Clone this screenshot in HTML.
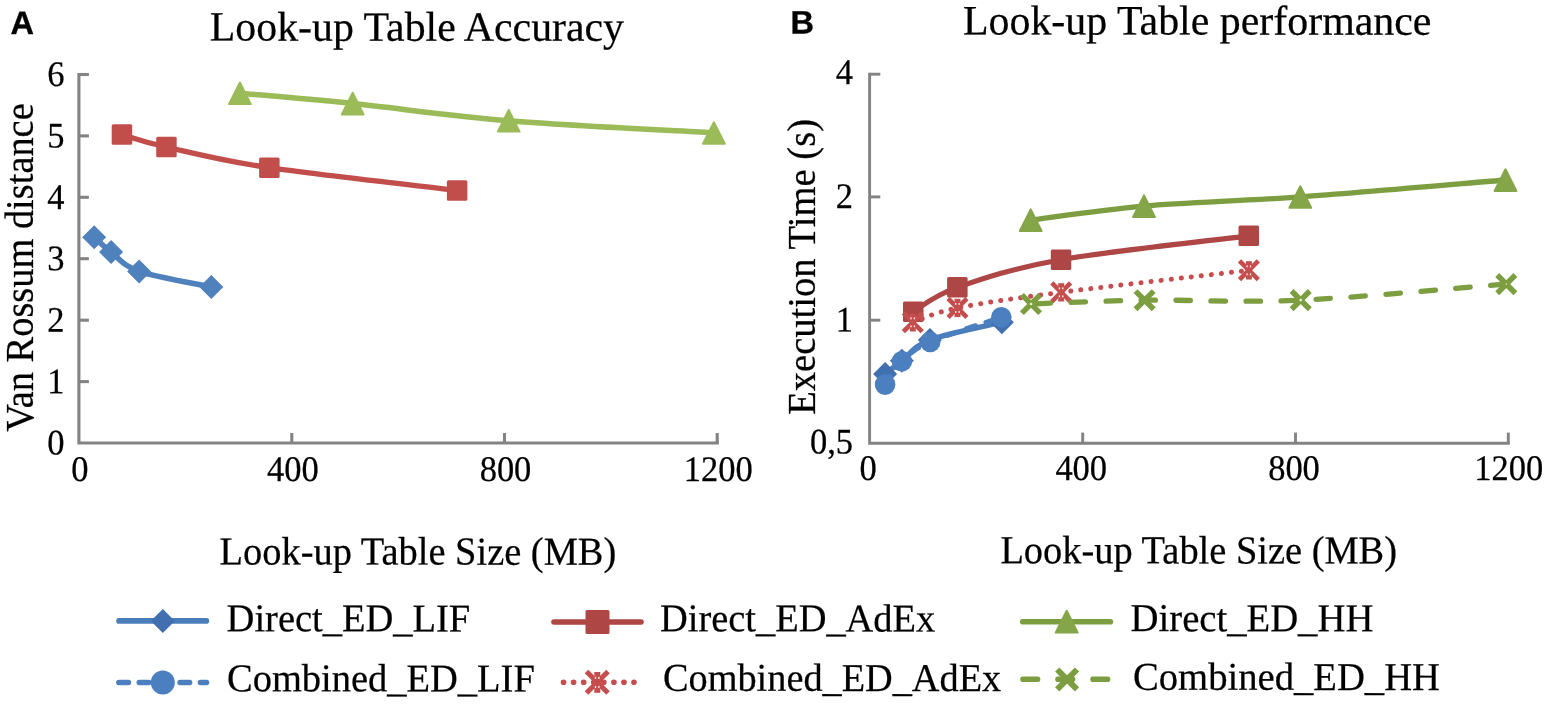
<!DOCTYPE html>
<html lang="en"><head><meta charset="utf-8"><title>Look-up Table Accuracy and performance</title>
<style>
html,body{margin:0;padding:0;background:#fff;}
body{width:1547px;height:706px;overflow:hidden;}
svg{display:block;}
</style></head><body>
<svg width="1547" height="706" viewBox="0 0 1547 706">
<rect width="1547" height="706" fill="#fff"/>
<path d="M78.9 72.9 L78.9 443.0 L718.8 443.0" fill="none" stroke="#838383" stroke-width="3.1" stroke-linejoin="miter"/>
<path d="M291.8 443.0 L291.8 433.0" stroke="#838383" stroke-width="3.1"/>
<path d="M504.5 443.0 L504.5 433.0" stroke="#838383" stroke-width="3.1"/>
<path d="M717.2 443.0 L717.2 433.0" stroke="#838383" stroke-width="3.1"/>
<path d="M78.9 381.6 L88.9 381.6" stroke="#838383" stroke-width="3.1"/>
<path d="M78.9 320.2 L88.9 320.2" stroke="#838383" stroke-width="3.1"/>
<path d="M78.9 258.7 L88.9 258.7" stroke="#838383" stroke-width="3.1"/>
<path d="M78.9 197.3 L88.9 197.3" stroke="#838383" stroke-width="3.1"/>
<path d="M78.9 135.9 L88.9 135.9" stroke="#838383" stroke-width="3.1"/>
<path d="M78.9 74.5 L88.9 74.5" stroke="#838383" stroke-width="3.1"/>
<text transform="translate(64.50,454.60) rotate(0.03) scale(0.957,1)" font-family='"Liberation Serif", serif' font-size="36" font-weight="normal" text-anchor="end" fill="#000" stroke="#000" stroke-width="0.25">0</text>
<text transform="translate(64.50,393.18) rotate(0.03) scale(0.957,1)" font-family='"Liberation Serif", serif' font-size="36" font-weight="normal" text-anchor="end" fill="#000" stroke="#000" stroke-width="0.25">1</text>
<text transform="translate(64.50,331.76) rotate(0.03) scale(0.957,1)" font-family='"Liberation Serif", serif' font-size="36" font-weight="normal" text-anchor="end" fill="#000" stroke="#000" stroke-width="0.25">2</text>
<text transform="translate(64.50,270.34) rotate(0.03) scale(0.957,1)" font-family='"Liberation Serif", serif' font-size="36" font-weight="normal" text-anchor="end" fill="#000" stroke="#000" stroke-width="0.25">3</text>
<text transform="translate(64.50,208.92) rotate(0.03) scale(0.957,1)" font-family='"Liberation Serif", serif' font-size="36" font-weight="normal" text-anchor="end" fill="#000" stroke="#000" stroke-width="0.25">4</text>
<text transform="translate(64.50,147.50) rotate(0.03) scale(0.957,1)" font-family='"Liberation Serif", serif' font-size="36" font-weight="normal" text-anchor="end" fill="#000" stroke="#000" stroke-width="0.25">5</text>
<text transform="translate(64.50,86.08) rotate(0.03) scale(0.957,1)" font-family='"Liberation Serif", serif' font-size="36" font-weight="normal" text-anchor="end" fill="#000" stroke="#000" stroke-width="0.25">6</text>
<text transform="translate(79.90,480.90) rotate(0.03) scale(0.957,1)" font-family='"Liberation Serif", serif' font-size="36" font-weight="normal" text-anchor="middle" fill="#000" stroke="#000" stroke-width="0.25">0</text>
<text transform="translate(292.80,480.90) rotate(0.03) scale(0.957,1)" font-family='"Liberation Serif", serif' font-size="36" font-weight="normal" text-anchor="middle" fill="#000" stroke="#000" stroke-width="0.25">400</text>
<text transform="translate(505.50,480.90) rotate(0.03) scale(0.957,1)" font-family='"Liberation Serif", serif' font-size="36" font-weight="normal" text-anchor="middle" fill="#000" stroke="#000" stroke-width="0.25">800</text>
<text transform="translate(718.20,480.90) rotate(0.03) scale(0.957,1)" font-family='"Liberation Serif", serif' font-size="36" font-weight="normal" text-anchor="middle" fill="#000" stroke="#000" stroke-width="0.25">1200</text>
<text transform="translate(10.60,34.00) rotate(0.03)" font-family='"Liberation Sans", sans-serif' font-size="32.5" font-weight="bold" text-anchor="start" fill="#000" stroke="#000" stroke-width="0.35">A</text>
<text transform="translate(416.90,40.70) rotate(0.03)" font-family='"Liberation Serif", serif' font-size="41.8" font-weight="normal" text-anchor="middle" fill="#000" stroke="#000" stroke-width="0.25">Look-up Table Accuracy</text>
<text transform="translate(417.90,564.60) rotate(0.03) scale(0.968,1)" font-family='"Liberation Serif", serif' font-size="39.7" font-weight="normal" text-anchor="middle" fill="#000" stroke="#000" stroke-width="0.25">Look-up Table Size (MB)</text>
<text transform="translate(33.40,267.50) rotate(-90) scale(0.941,1)" font-family='"Liberation Serif", serif' font-size="40.8" font-weight="normal" text-anchor="middle" fill="#000" stroke="#000" stroke-width="0.25">Van Rossum distance</text>
<path d="M239.9 93.2 C258.7 94.9 307.9 98.9 352.7 103.5 C397.5 108.1 448.5 115.8 508.7 120.7 C568.9 125.6 679.7 130.9 713.9 132.9" fill="none" stroke="#9BBB59" stroke-width="5.5" stroke-linecap="round" stroke-linejoin="round"/>
<path d="M239.9 82.5 L250.8 104.1 L229.0 104.1Z" fill="#9BBB59" stroke="#9BBB59" stroke-width="2" stroke-linejoin="round"/>
<path d="M352.7 92.8 L363.6 114.4 L341.8 114.4Z" fill="#9BBB59" stroke="#9BBB59" stroke-width="2" stroke-linejoin="round"/>
<path d="M508.7 110.0 L519.6 131.6 L497.8 131.6Z" fill="#9BBB59" stroke="#9BBB59" stroke-width="2" stroke-linejoin="round"/>
<path d="M713.9 122.2 L724.8 143.8 L703.0 143.8Z" fill="#9BBB59" stroke="#9BBB59" stroke-width="2" stroke-linejoin="round"/>
<path d="M121.9 134.6 C129.3 136.7 141.8 141.5 166.4 147.0 C191.0 152.5 220.8 160.5 269.3 167.7 C317.8 174.9 425.8 186.6 457.1 190.4" fill="none" stroke="#C24E4B" stroke-width="5.3" stroke-linecap="round" stroke-linejoin="round"/>
<rect x="111.7" y="124.3" width="20.5" height="20.5" rx="1.5" fill="#C24E4B"/>
<rect x="156.2" y="136.8" width="20.5" height="20.5" rx="1.5" fill="#C24E4B"/>
<rect x="259.1" y="157.4" width="20.5" height="20.5" rx="1.5" fill="#C24E4B"/>
<rect x="446.9" y="180.2" width="20.5" height="20.5" rx="1.5" fill="#C24E4B"/>
<path d="M94.2 237.2 C97.0 239.7 103.6 246.4 111.1 252.1 C118.6 257.8 122.4 265.6 139.1 271.4 C155.8 277.2 199.3 284.4 211.3 287.0" fill="none" stroke="#4F81BD" stroke-width="5.5" stroke-linecap="round" stroke-linejoin="round"/>
<path d="M94.2 225.2 L106.2 237.2 L94.2 249.2 L82.2 237.2Z" fill="#4F81BD"/>
<path d="M111.1 240.1 L123.1 252.1 L111.1 264.1 L99.1 252.1Z" fill="#4F81BD"/>
<path d="M139.1 259.4 L151.1 271.4 L139.1 283.4 L127.1 271.4Z" fill="#4F81BD"/>
<path d="M211.3 275.0 L223.3 287.0 L211.3 299.0 L199.3 287.0Z" fill="#4F81BD"/>
<path d="M869.6 72.7 L869.6 443.3 L1509.8 443.3" fill="none" stroke="#838383" stroke-width="2.9" stroke-linejoin="miter"/>
<path d="M1082.7 443.3 L1082.7 432.6" stroke="#838383" stroke-width="2.9"/>
<path d="M1295.5 443.3 L1295.5 432.6" stroke="#838383" stroke-width="2.9"/>
<path d="M1508.3 443.3 L1508.3 432.6" stroke="#838383" stroke-width="2.9"/>
<path d="M869.6 320.2 L880.3 320.2" stroke="#838383" stroke-width="2.9"/>
<path d="M869.6 196.9 L880.3 196.9" stroke="#838383" stroke-width="2.9"/>
<path d="M869.6 74.2 L880.3 74.2" stroke="#838383" stroke-width="2.9"/>
<text transform="translate(853.00,453.40) rotate(0.03) scale(0.957,1)" font-family='"Liberation Serif", serif' font-size="36" font-weight="normal" text-anchor="end" fill="#000" stroke="#000" stroke-width="0.25">0,5</text>
<text transform="translate(853.00,331.40) rotate(0.03) scale(0.957,1)" font-family='"Liberation Serif", serif' font-size="36" font-weight="normal" text-anchor="end" fill="#000" stroke="#000" stroke-width="0.25">1</text>
<text transform="translate(853.00,207.90) rotate(0.03) scale(0.957,1)" font-family='"Liberation Serif", serif' font-size="36" font-weight="normal" text-anchor="end" fill="#000" stroke="#000" stroke-width="0.25">2</text>
<text transform="translate(853.00,84.00) rotate(0.03) scale(0.957,1)" font-family='"Liberation Serif", serif' font-size="36" font-weight="normal" text-anchor="end" fill="#000" stroke="#000" stroke-width="0.25">4</text>
<text transform="translate(868.10,480.00) rotate(0.03) scale(0.957,1)" font-family='"Liberation Serif", serif' font-size="36" font-weight="normal" text-anchor="middle" fill="#000" stroke="#000" stroke-width="0.25">0</text>
<text transform="translate(1081.20,480.00) rotate(0.03) scale(0.957,1)" font-family='"Liberation Serif", serif' font-size="36" font-weight="normal" text-anchor="middle" fill="#000" stroke="#000" stroke-width="0.25">400</text>
<text transform="translate(1294.00,480.00) rotate(0.03) scale(0.957,1)" font-family='"Liberation Serif", serif' font-size="36" font-weight="normal" text-anchor="middle" fill="#000" stroke="#000" stroke-width="0.25">800</text>
<text transform="translate(1508.80,480.00) rotate(0.03) scale(0.957,1)" font-family='"Liberation Serif", serif' font-size="36" font-weight="normal" text-anchor="middle" fill="#000" stroke="#000" stroke-width="0.25">1200</text>
<text transform="translate(790.50,33.60) rotate(0.03)" font-family='"Liberation Sans", sans-serif' font-size="32.5" font-weight="bold" text-anchor="start" fill="#000" stroke="#000" stroke-width="0.35">B</text>
<text transform="translate(1197.20,34.60) rotate(0.03)" font-family='"Liberation Serif", serif' font-size="41.9" font-weight="normal" text-anchor="middle" fill="#000" stroke="#000" stroke-width="0.25">Look-up Table performance</text>
<text transform="translate(1198.70,563.40) rotate(0.03) scale(0.968,1)" font-family='"Liberation Serif", serif' font-size="39.7" font-weight="normal" text-anchor="middle" fill="#000" stroke="#000" stroke-width="0.25">Look-up Table Size (MB)</text>
<text transform="translate(814.70,266.90) rotate(-90) scale(0.946,1)" font-family='"Liberation Serif", serif' font-size="40.8" font-weight="normal" text-anchor="middle" fill="#000" stroke="#000" stroke-width="0.25">Execution Time (s)</text>
<path d="M885.1 374.0 C887.9 371.8 894.4 366.5 901.9 360.8 C909.4 355.1 913.2 346.3 929.9 339.9 C946.6 333.5 989.9 325.1 1001.9 322.2" fill="none" stroke="#4A7EBB" stroke-width="5.3" stroke-linecap="round" stroke-linejoin="round"/>
<path d="M885.1 362.0 L897.1 374.0 L885.1 386.0 L873.1 374.0Z" fill="#4070B0"/>
<path d="M901.9 348.8 L913.9 360.8 L901.9 372.8 L889.9 360.8Z" fill="#4070B0"/>
<path d="M929.9 327.9 L941.9 339.9 L929.9 351.9 L917.9 339.9Z" fill="#4070B0"/>
<path d="M1001.9 310.2 L1013.9 322.2 L1001.9 334.2 L989.9 322.2Z" fill="#4070B0"/>
<path d="M913.2 311.6 C920.6 307.6 932.8 296.0 957.4 287.4 C982.0 278.8 1012.5 268.3 1061.0 259.7 C1109.5 251.1 1217.4 239.8 1248.7 235.8" fill="none" stroke="#AD4644" stroke-width="5.2" stroke-linecap="round" stroke-linejoin="round"/>
<rect x="903.0" y="301.4" width="20.5" height="20.5" rx="1.5" fill="#AD4644"/>
<rect x="947.1" y="277.1" width="20.5" height="20.5" rx="1.5" fill="#AD4644"/>
<rect x="1050.8" y="249.4" width="20.5" height="20.5" rx="1.5" fill="#AD4644"/>
<rect x="1238.5" y="225.6" width="20.5" height="20.5" rx="1.5" fill="#AD4644"/>
<path d="M1030.7 220.1 C1049.6 217.8 1099.1 210.0 1144.0 206.1 C1188.9 202.2 1240.0 201.2 1300.3 196.9 C1360.5 192.6 1471.3 182.8 1505.5 180.0" fill="none" stroke="#7C9E40" stroke-width="5.3" stroke-linecap="round" stroke-linejoin="round"/>
<path d="M1030.7 209.4 L1041.6 231.0 L1019.8 231.0Z" fill="#84A648" stroke="#84A648" stroke-width="2" stroke-linejoin="round"/>
<path d="M1144.0 195.4 L1154.9 217.0 L1133.1 217.0Z" fill="#84A648" stroke="#84A648" stroke-width="2" stroke-linejoin="round"/>
<path d="M1300.3 186.2 L1311.2 207.8 L1289.4 207.8Z" fill="#84A648" stroke="#84A648" stroke-width="2" stroke-linejoin="round"/>
<path d="M1505.5 169.3 L1516.4 190.9 L1494.6 190.9Z" fill="#84A648" stroke="#84A648" stroke-width="2" stroke-linejoin="round"/>
<path d="M885.1 384.6 C887.9 380.7 894.4 368.3 901.9 361.2 C909.4 354.1 913.6 349.3 930.2 342.0 C946.8 334.7 989.4 321.3 1001.3 317.2" fill="none" stroke="#4B7FBF" stroke-width="5" stroke-linecap="round" stroke-linejoin="round" stroke-dasharray="9.5 10.9"/>
<circle cx="885.1" cy="384.6" r="10.3" fill="#4B7FBF"/>
<circle cx="901.9" cy="361.2" r="10.3" fill="#4B7FBF"/>
<circle cx="930.2" cy="342.0" r="10.3" fill="#4B7FBF"/>
<circle cx="1001.3" cy="317.2" r="10.3" fill="#4B7FBF"/>
<path d="M912.8 322.3 C920.2 319.9 932.8 312.9 957.5 307.9 C982.2 302.9 1012.6 298.6 1061.2 292.3 C1109.8 286.0 1217.6 274.0 1248.9 270.3" fill="none" stroke="#C64D4D" stroke-width="5" stroke-linecap="round" stroke-linejoin="round" stroke-dasharray="0.1 10"/>
<path d="M903.4 312.9 L922.2 331.7 M903.4 331.7 L922.2 312.9" stroke="#C64D4D" stroke-width="4.6" fill="none"/>
<rect x="909.8" y="313.2" width="6" height="18.3" fill="#C64D4D"/>
<rect x="910.35" y="317.40" width="1.3" height="1.90" fill="#fff" opacity="0.92"/>
<rect x="910.35" y="325.40" width="1.3" height="1.90" fill="#fff" opacity="0.92"/>
<rect x="913.75" y="317.40" width="1.3" height="1.90" fill="#fff" opacity="0.92"/>
<rect x="913.75" y="325.40" width="1.3" height="1.90" fill="#fff" opacity="0.92"/>
<path d="M948.1 298.5 L966.9 317.3 M948.1 317.3 L966.9 298.5" stroke="#C64D4D" stroke-width="4.6" fill="none"/>
<rect x="954.5" y="298.8" width="6" height="18.3" fill="#C64D4D"/>
<rect x="955.05" y="303.00" width="1.3" height="1.90" fill="#fff" opacity="0.92"/>
<rect x="955.05" y="311.00" width="1.3" height="1.90" fill="#fff" opacity="0.92"/>
<rect x="958.45" y="303.00" width="1.3" height="1.90" fill="#fff" opacity="0.92"/>
<rect x="958.45" y="311.00" width="1.3" height="1.90" fill="#fff" opacity="0.92"/>
<path d="M1051.8 282.9 L1070.6 301.7 M1051.8 301.7 L1070.6 282.9" stroke="#C64D4D" stroke-width="4.6" fill="none"/>
<rect x="1058.2" y="283.2" width="6" height="18.3" fill="#C64D4D"/>
<rect x="1058.75" y="287.40" width="1.3" height="1.90" fill="#fff" opacity="0.92"/>
<rect x="1058.75" y="295.40" width="1.3" height="1.90" fill="#fff" opacity="0.92"/>
<rect x="1062.15" y="287.40" width="1.3" height="1.90" fill="#fff" opacity="0.92"/>
<rect x="1062.15" y="295.40" width="1.3" height="1.90" fill="#fff" opacity="0.92"/>
<path d="M1239.5 260.9 L1258.3 279.7 M1239.5 279.7 L1258.3 260.9" stroke="#C64D4D" stroke-width="4.6" fill="none"/>
<rect x="1245.9" y="261.2" width="6" height="18.3" fill="#C64D4D"/>
<rect x="1246.45" y="265.40" width="1.3" height="1.90" fill="#fff" opacity="0.92"/>
<rect x="1246.45" y="273.40" width="1.3" height="1.90" fill="#fff" opacity="0.92"/>
<rect x="1249.85" y="265.40" width="1.3" height="1.90" fill="#fff" opacity="0.92"/>
<rect x="1249.85" y="273.40" width="1.3" height="1.90" fill="#fff" opacity="0.92"/>
<path d="M1031.0 304.0 C1049.9 303.4 1099.6 300.8 1144.6 300.2 C1189.5 299.6 1240.4 302.8 1300.7 300.1 C1361.0 297.4 1472.0 286.8 1506.3 284.1" fill="none" stroke="#7C9E40" stroke-width="5.3" stroke-linecap="round" stroke-linejoin="round" stroke-dasharray="14.5 20.5" stroke-dashoffset="29.8"/>
<path d="M1021.9 294.9 L1040.1 313.1 M1021.9 313.1 L1040.1 294.9" stroke="#7C9E40" stroke-width="5.5" fill="none" stroke-linecap="butt"/>
<path d="M1031.0 302.4 L1032.6 304.0 L1031.0 305.6 L1029.4 304.0Z" fill="#fff" opacity="0.9"/>
<path d="M1135.5 291.1 L1153.7 309.3 M1135.5 309.3 L1153.7 291.1" stroke="#7C9E40" stroke-width="5.5" fill="none" stroke-linecap="butt"/>
<path d="M1291.6 291.0 L1309.8 309.2 M1291.6 309.2 L1309.8 291.0" stroke="#7C9E40" stroke-width="5.5" fill="none" stroke-linecap="butt"/>
<path d="M1300.7 298.5 L1302.3 300.1 L1300.7 301.7 L1299.1 300.1Z" fill="#fff" opacity="0.9"/>
<path d="M1497.2 275.0 L1515.4 293.2 M1497.2 293.2 L1515.4 275.0" stroke="#7C9E40" stroke-width="5.5" fill="none" stroke-linecap="butt"/>
<path d="M1506.3 283.3 L1507.1 284.1 L1506.3 284.9 L1505.5 284.1Z" fill="#fff" opacity="0.9"/>
<path d="M119.0 620.9 L206.4 620.9" stroke="#4A7EBB" stroke-width="5.6" stroke-linecap="round" fill="none"/>
<path d="M162.8 608.9 L174.8 620.9 L162.8 632.9 L150.8 620.9Z" fill="#4070B0"/>
<text transform="translate(226.60,631.30) rotate(0.03) scale(0.977,1)" font-family='"Liberation Serif", serif' font-size="39.4" font-weight="normal" text-anchor="start" fill="#000" stroke="#000" stroke-width="0.25">Direct_ED_LIF</text>
<path d="M554.0 622.0 L641.0 622.0" stroke="#AD4644" stroke-width="5.6" stroke-linecap="round" fill="none"/>
<rect x="585.5" y="610.1" width="24.0" height="24.0" rx="1.5" fill="#AD4644"/>
<text transform="translate(660.00,631.30) rotate(0.03) scale(0.975,1)" font-family='"Liberation Serif", serif' font-size="39.4" font-weight="normal" text-anchor="start" fill="#000" stroke="#000" stroke-width="0.25">Direct_ED_AdEx</text>
<path d="M1022.7 621.7 L1110.4 621.7" stroke="#7C9E40" stroke-width="5.6" stroke-linecap="round" fill="none"/>
<path d="M1066.7 610.8 L1077.7 632.6 L1055.7 632.6Z" fill="#84A648" stroke="#84A648" stroke-width="2" stroke-linejoin="round"/>
<text transform="translate(1130.60,631.10) rotate(0.03) scale(0.982,1)" font-family='"Liberation Serif", serif' font-size="39.4" font-weight="normal" text-anchor="start" fill="#000" stroke="#000" stroke-width="0.25">Direct_ED_HH</text>
<path d="M118.9 682.5 L206.5 682.5" stroke="#4B7FBF" stroke-width="5.6" stroke-linecap="round" fill="none" stroke-dasharray="9.5 10.9"/>
<circle cx="162.8" cy="682.5" r="12.0" fill="#4B7FBF"/>
<text transform="translate(227.00,691.30) rotate(0.03) scale(0.977,1)" font-family='"Liberation Serif", serif' font-size="39.4" font-weight="normal" text-anchor="start" fill="#000" stroke="#000" stroke-width="0.25">Combined_ED_LIF</text>
<path d="M563.5 682.3 L634.0 682.3" stroke="#C64D4D" stroke-width="5.6" stroke-linecap="round" fill="none" stroke-dasharray="0.1 9.97"/>
<path d="M586.5 671.6 L608.0 693.1 M586.5 693.1 L608.0 671.6" stroke="#C64D4D" stroke-width="5" fill="none"/>
<rect x="594.3" y="672.0" width="6" height="20.8" fill="#C64D4D"/>
<rect x="594.85" y="676.83" width="1.3" height="2.16" fill="#fff" opacity="0.92"/>
<rect x="594.85" y="685.92" width="1.3" height="2.16" fill="#fff" opacity="0.92"/>
<rect x="598.25" y="676.83" width="1.3" height="2.16" fill="#fff" opacity="0.92"/>
<rect x="598.25" y="685.92" width="1.3" height="2.16" fill="#fff" opacity="0.92"/>
<text transform="translate(663.00,690.80) rotate(0.03) scale(0.972,1)" font-family='"Liberation Serif", serif' font-size="39.4" font-weight="normal" text-anchor="start" fill="#000" stroke="#000" stroke-width="0.25">Combined_ED_AdEx</text>
<path d="M1023.0 679.3 L1110.0 679.3" stroke="#7C9E40" stroke-width="5.6" stroke-linecap="round" fill="none" stroke-dasharray="14.6 20.4"/>
<path d="M1057.2 669.5 L1077.0 689.3 M1057.2 689.3 L1077.0 669.5" stroke="#7C9E40" stroke-width="6" fill="none" stroke-linecap="butt"/>
<text transform="translate(1133.00,689.80) rotate(0.03) scale(0.981,1)" font-family='"Liberation Serif", serif' font-size="39.4" font-weight="normal" text-anchor="start" fill="#000" stroke="#000" stroke-width="0.25">Combined_ED_HH</text>
</svg>
</body></html>
